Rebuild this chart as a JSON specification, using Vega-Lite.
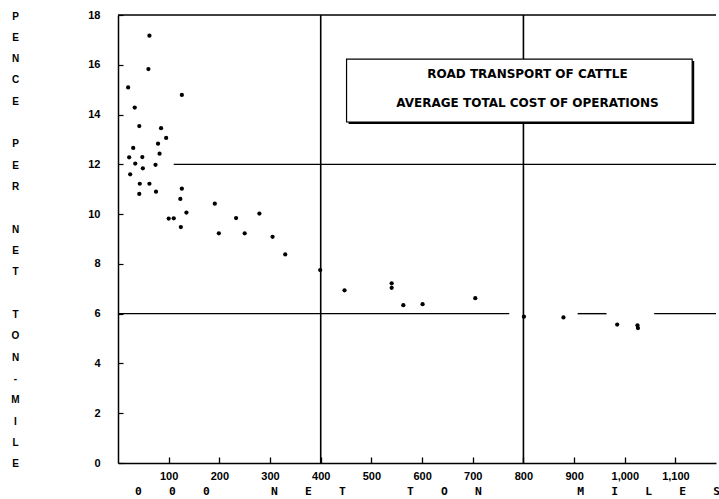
{
  "$schema": "https://vega.github.io/schema/vega-lite/v6.json",
  "width": 598,
  "height": 448,
  "autosize": "none",
  "padding": {"left": 118, "top": 15, "right": 3, "bottom": 36},
  "background": "white",
  "config": {"view": {"stroke": null}, "font": "Liberation Sans"},
  "datasets": {
    "points": [
      {"x": 20, "y": 15.09}, {"x": 62, "y": 17.17}, {"x": 60, "y": 15.83}, {"x": 33, "y": 14.28},
      {"x": 42, "y": 13.54}, {"x": 85, "y": 13.45}, {"x": 95, "y": 13.06}, {"x": 79, "y": 12.83},
      {"x": 30, "y": 12.66}, {"x": 82, "y": 12.43}, {"x": 22, "y": 12.28}, {"x": 48, "y": 12.29},
      {"x": 34, "y": 12.03}, {"x": 74, "y": 11.98}, {"x": 49, "y": 11.84}, {"x": 24, "y": 11.6},
      {"x": 43, "y": 11.22}, {"x": 62, "y": 11.22}, {"x": 42, "y": 10.81}, {"x": 75, "y": 10.9},
      {"x": 126, "y": 14.79}, {"x": 126, "y": 11.02}, {"x": 123, "y": 10.61}, {"x": 135, "y": 10.06},
      {"x": 100, "y": 9.82}, {"x": 110, "y": 9.83}, {"x": 124, "y": 9.48}, {"x": 191, "y": 10.42},
      {"x": 199, "y": 9.23}, {"x": 233, "y": 9.84}, {"x": 250, "y": 9.23}, {"x": 279, "y": 10.02},
      {"x": 305, "y": 9.09}, {"x": 330, "y": 8.38}, {"x": 399, "y": 7.75}, {"x": 447, "y": 6.94},
      {"x": 540, "y": 7.22}, {"x": 540, "y": 7.04}, {"x": 563, "y": 6.34}, {"x": 601, "y": 6.38},
      {"x": 705, "y": 6.62}, {"x": 801, "y": 5.88}, {"x": 879, "y": 5.85}, {"x": 985, "y": 5.56},
      {"x": 1025, "y": 5.53}, {"x": 1026, "y": 5.42}
    ],
    "hlines": [
      {"x": 0, "x2": 1180, "y": 18},
      {"x": 110, "x2": 1180, "y": 12},
      {"x": 0, "x2": 772, "y": 6},
      {"x": 907, "x2": 964, "y": 6},
      {"x": 1058, "x2": 1180, "y": 6}
    ],
    "vlines": [
      {"x": 400, "y": 0, "y2": 18},
      {"x": 800, "y": 0, "y2": 18}
    ],
    "shadow": [{"x": 455, "x2": 1137, "y": 13.62, "y2": 16.15}],
    "box": [{"x": 451, "x2": 1133, "y": 13.7, "y2": 16.23}],
    "boxtext": [
      {"x": 808, "y": 15.64, "text": "ROAD TRANSPORT OF CATTLE"},
      {"x": 808, "y": 14.46, "text": "AVERAGE TOTAL COST OF OPERATIONS"}
    ]
  },
  "layer": [
    {
      "data": {"name": "hlines"},
      "mark": {"type": "rule", "color": "black", "strokeWidth": 1.4},
      "encoding": {
        "x": {"field": "x", "type": "quantitative", "scale": {"domain": [0, 1180], "nice": false, "zero": false}},
        "x2": {"field": "x2"},
        "y": {"field": "y", "type": "quantitative", "scale": {"domain": [0, 18], "nice": false}}
      }
    },
    {
      "data": {"name": "vlines"},
      "mark": {"type": "rule", "color": "black", "strokeWidth": 1.6},
      "encoding": {
        "x": {"field": "x", "type": "quantitative"},
        "y": {"field": "y", "type": "quantitative"},
        "y2": {"field": "y2"}
      }
    },
    {
      "data": {"name": "shadow"},
      "mark": {"type": "rect", "color": "black"},
      "encoding": {
        "x": {"field": "x", "type": "quantitative"},
        "x2": {"field": "x2"},
        "y": {"field": "y", "type": "quantitative"},
        "y2": {"field": "y2"}
      }
    },
    {
      "data": {"name": "box"},
      "mark": {"type": "rect", "fill": "white", "stroke": "black", "strokeWidth": 1.2},
      "encoding": {
        "x": {"field": "x", "type": "quantitative"},
        "x2": {"field": "x2"},
        "y": {"field": "y", "type": "quantitative"},
        "y2": {"field": "y2"}
      }
    },
    {
      "data": {"name": "boxtext"},
      "mark": {"type": "text", "font": "DejaVu Sans", "fontWeight": "bold", "fontSize": 12, "color": "black", "align": "center", "baseline": "middle"},
      "encoding": {
        "x": {"field": "x", "type": "quantitative"},
        "y": {"field": "y", "type": "quantitative"},
        "text": {"field": "text"}
      }
    },
    {
      "data": {"name": "points"},
      "mark": {"type": "circle", "color": "black", "size": 18, "opacity": 1},
      "encoding": {
        "x": {
          "field": "x", "type": "quantitative",
          "axis": {
            "values": [100, 200, 300, 400, 500, 600, 700, 800, 900, 1000, 1100],
            "format": ",d", "grid": false,
            "domainColor": "black", "domainWidth": 1.5,
            "tickColor": "black", "tickSize": -6, "tickWidth": 1.3,
            "labelPadding": 13, "labelFont": "Liberation Sans", "labelFontWeight": "bold", "labelFontSize": 11, "labelColor": "black", "labelBaseline": "top",
            "title": "0\u00a0\u00a0\u00a0\u00a00\u00a0\u00a0\u00a0\u00a00\u00a0\u00a0\u00a0\u00a0\u00a0\u00a0\u00a0\u00a0\u00a0N\u00a0\u00a0\u00a0\u00a0E\u00a0\u00a0\u00a0\u00a0T\u00a0\u00a0\u00a0\u00a0\u00a0\u00a0\u00a0\u00a0\u00a0T\u00a0\u00a0\u00a0\u00a0O\u00a0\u00a0\u00a0\u00a0N\u00a0\u00a0\u00a0\u00a0\u00a0\u00a0\u00a0\u00a0\u00a0\u00a0\u00a0\u00a0\u00a0\u00a0M\u00a0\u00a0\u00a0\u00a0I\u00a0\u00a0\u00a0\u00a0L\u00a0\u00a0\u00a0\u00a0E\u00a0\u00a0\u00a0\u00a0S",
            "titleFont": "DejaVu Sans Mono", "titleFontWeight": "bold", "titleFontSize": 11.3, "titleColor": "black",
            "titleX": 309, "titleY": 28, "titleBaseline": "middle", "titleAlign": "center"
          }
        },
        "y": {
          "field": "y", "type": "quantitative",
          "axis": {
            "values": [0, 1, 2, 3, 4, 5, 6, 7, 8, 9, 10, 11, 12, 13, 14, 15, 16, 17, 18],
            "labelExpr": "datum.value % 2 == 0 ? datum.label : ''",
            "grid": false,
            "domainColor": "black", "domainWidth": 1.5,
            "tickColor": "black", "tickSize": -5, "tickWidth": 1.2,
            "labelPadding": 23, "labelFont": "Liberation Sans", "labelFontWeight": "bold", "labelFontSize": 11, "labelColor": "black",
            "title": ["P", "E", "N", "C", "E", "\u200b", "P", "E", "R", "\u200b", "N", "E", "T", "\u200b", "T", "O", "N", "-", "M", "I", "L", "E"],
            "titleAngle": 0, "titleX": -103, "titleY": 1, "titleBaseline": "middle", "titleAlign": "center",
            "titleLineHeight": 21.33, "titleFont": "Liberation Sans", "titleFontWeight": "bold", "titleFontSize": 10, "titleColor": "black"
          }
        }
      }
    }
  ]
}
